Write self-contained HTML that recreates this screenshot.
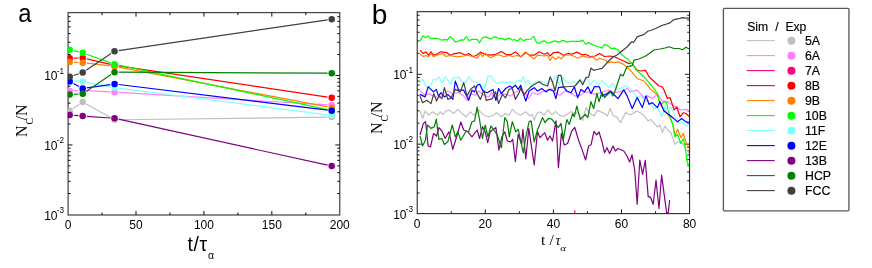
<!DOCTYPE html>
<html><head><meta charset="utf-8"><title>fig</title>
<style>html,body{margin:0;padding:0;background:#fff;}body{width:872px;height:268px;overflow:hidden;}svg{display:block;will-change:transform;}text{font-family:"Liberation Sans",sans-serif;fill:#000;}.ser{font-family:"Liberation Serif",serif;}</style>
</head><body>
<svg width="872" height="268" viewBox="0 0 872 268">
<rect width="872" height="268" fill="#fff"/>
<rect x="68.1" y="12.6" width="271.65" height="202.4" fill="none" stroke="#484848" stroke-width="1.25"/>
<path d="M102.06 215V212.5M102.06 12.6V15.1M136.01 215V211M136.01 12.6V16.6M169.97 215V212.5M169.97 12.6V15.1M203.92 215V211M203.92 12.6V16.6M237.88 215V212.5M237.88 12.6V15.1M271.84 215V211M271.84 12.6V16.6M305.79 215V212.5M305.79 12.6V15.1M68.1 193.53H70.6M339.75 193.53H337.25M68.1 181.29H70.6M339.75 181.29H337.25M68.1 172.61H70.6M339.75 172.61H337.25M68.1 165.87H70.6M339.75 165.87H337.25M68.1 160.37H70.6M339.75 160.37H337.25M68.1 155.72H70.6M339.75 155.72H337.25M68.1 151.69H70.6M339.75 151.69H337.25M68.1 148.13H70.6M339.75 148.13H337.25M68.1 144.95H72.5M339.75 144.95H335.35M68.1 124.03H70.6M339.75 124.03H337.25M68.1 111.79H70.6M339.75 111.79H337.25M68.1 103.11H70.6M339.75 103.11H337.25M68.1 96.37H70.6M339.75 96.37H337.25M68.1 90.87H70.6M339.75 90.87H337.25M68.1 86.22H70.6M339.75 86.22H337.25M68.1 82.19H70.6M339.75 82.19H337.25M68.1 78.63H70.6M339.75 78.63H337.25M68.1 75.45H72.5M339.75 75.45H335.35M68.1 54.53H70.6M339.75 54.53H337.25M68.1 42.29H70.6M339.75 42.29H337.25M68.1 33.61H70.6M339.75 33.61H337.25M68.1 26.87H70.6M339.75 26.87H337.25M68.1 21.37H70.6M339.75 21.37H337.25M68.1 16.72H70.6M339.75 16.72H337.25" stroke="#000" stroke-width="0.95" fill="none"/>
<path d="M451.25 213.65V211.25M451.25 11.7V14.1M485.3 213.65V209.45M485.3 11.7V15.9M519.35 213.65V211.25M519.35 11.7V14.1M553.4 213.65V209.45M553.4 11.7V15.9M587.45 213.65V211.25M587.45 11.7V14.1M621.5 213.65V209.45M621.5 11.7V15.9M655.55 213.65V211.25M655.55 11.7V14.1M417.2 192.97H419.6M689.6 192.97H687.2M417.2 180.67H419.6M689.6 180.67H687.2M417.2 171.95H419.6M689.6 171.95H687.2M417.2 165.18H419.6M689.6 165.18H687.2M417.2 159.65H419.6M689.6 159.65H687.2M417.2 154.97H419.6M689.6 154.97H687.2M417.2 150.92H419.6M689.6 150.92H687.2M417.2 147.35H419.6M689.6 147.35H687.2M417.2 144.15H421.9M689.6 144.15H684.9M417.2 123.12H419.6M689.6 123.12H687.2M417.2 110.82H419.6M689.6 110.82H687.2M417.2 102.1H419.6M689.6 102.1H687.2M417.2 95.33H419.6M689.6 95.33H687.2M417.2 89.8H419.6M689.6 89.8H687.2M417.2 85.12H419.6M689.6 85.12H687.2M417.2 81.07H419.6M689.6 81.07H687.2M417.2 77.5H419.6M689.6 77.5H687.2M417.2 74.3H421.9M689.6 74.3H684.9M417.2 53.27H419.6M689.6 53.27H687.2M417.2 40.97H419.6M689.6 40.97H687.2M417.2 32.25H419.6M689.6 32.25H687.2M417.2 25.48H419.6M689.6 25.48H687.2M417.2 19.95H419.6M689.6 19.95H687.2M417.2 15.27H419.6M689.6 15.27H687.2" stroke="#000" stroke-width="0.9" fill="none"/>
<defs><clipPath id="cl"><rect x="67.65" y="12.6" width="272.1" height="202.4"/></clipPath>
<clipPath id="cr"><rect x="417.2" y="11.7" width="272.4" height="201.95"/></clipPath></defs>
<g clip-path="url(#cl)">
<path d="M73.14 108.47L79.26 104.33M86.32 104.02L110.93 117.78M118.7 119.75L327.55 117.15" stroke="#C0C0C0" stroke-width="1.2" fill="none"/>
<circle cx="69.7" cy="110.8" r="3.25" fill="#C0C0C0"/>
<circle cx="82.7" cy="102" r="3.25" fill="#C0C0C0"/>
<circle cx="114.55" cy="119.8" r="3.25" fill="#C0C0C0"/>
<circle cx="331.7" cy="117.1" r="3.25" fill="#C0C0C0"/>
<path d="M73.85 90.71L78.55 90.49M86.84 90.55L110.41 91.95M118.69 92.45L327.56 104.85" stroke="#FF80FF" stroke-width="1.2" fill="none"/>
<circle cx="69.7" cy="90.9" r="3.25" fill="#FF80FF"/>
<circle cx="82.7" cy="90.3" r="3.25" fill="#FF80FF"/>
<circle cx="114.55" cy="92.2" r="3.25" fill="#FF80FF"/>
<circle cx="331.7" cy="105.1" r="3.25" fill="#FF80FF"/>
<path d="M73.85 58.1L78.55 58M86.74 58.84L110.51 64.36M118.65 65.91L327.6 97.09" stroke="#FF0000" stroke-width="1.2" fill="none"/>
<circle cx="69.7" cy="58.2" r="3.25" fill="#FF0000"/>
<circle cx="82.7" cy="57.9" r="3.25" fill="#FF0000"/>
<circle cx="114.55" cy="65.3" r="3.25" fill="#FF0000"/>
<circle cx="331.7" cy="97.7" r="3.25" fill="#FF0000"/>
<path d="M73.84 62.22L78.56 62.48M86.82 63.18L110.43 65.92M118.63 67.18L327.62 106.92" stroke="#FF8000" stroke-width="1.2" fill="none"/>
<circle cx="69.7" cy="62" r="3.25" fill="#FF8000"/>
<circle cx="82.7" cy="62.7" r="3.25" fill="#FF8000"/>
<circle cx="114.55" cy="66.4" r="3.25" fill="#FF8000"/>
<circle cx="331.7" cy="107.7" r="3.25" fill="#FF8000"/>
<path d="M73.73 50.68L78.67 51.87M86.61 54.24L110.64 62.81M118.61 65.07L327.64 109.63" stroke="#00FF00" stroke-width="1.2" fill="none"/>
<circle cx="69.7" cy="49.7" r="3.25" fill="#00FF00"/>
<circle cx="82.7" cy="52.85" r="3.25" fill="#00FF00"/>
<circle cx="114.55" cy="64.2" r="3.25" fill="#00FF00"/>
<circle cx="331.7" cy="110.5" r="3.25" fill="#00FF00"/>
<path d="M73.84 80.82L78.56 81.18M86.77 82.29L110.48 86.91M118.67 88.22L327.58 114.78" stroke="#80FFFF" stroke-width="1.2" fill="none"/>
<circle cx="69.7" cy="80.5" r="3.25" fill="#80FFFF"/>
<circle cx="82.7" cy="81.5" r="3.25" fill="#80FFFF"/>
<circle cx="114.55" cy="87.7" r="3.25" fill="#80FFFF"/>
<circle cx="331.7" cy="115.3" r="3.25" fill="#80FFFF"/>
<path d="M73.37 83.45L79.03 86.45M86.81 87.83L110.44 84.57M118.67 84.51L327.58 110.19" stroke="#0000FF" stroke-width="1.2" fill="none"/>
<circle cx="69.7" cy="81.5" r="3.25" fill="#0000FF"/>
<circle cx="82.7" cy="88.4" r="3.25" fill="#0000FF"/>
<circle cx="114.55" cy="84" r="3.25" fill="#0000FF"/>
<circle cx="331.7" cy="110.7" r="3.25" fill="#0000FF"/>
<path d="M73.84 115.39L78.56 115.71M86.84 116.3L110.41 118M118.6 119.19L327.65 165.21" stroke="#800080" stroke-width="1.2" fill="none"/>
<circle cx="69.7" cy="115.1" r="3.25" fill="#800080"/>
<circle cx="82.7" cy="116" r="3.25" fill="#800080"/>
<circle cx="114.55" cy="118.3" r="3.25" fill="#800080"/>
<circle cx="331.7" cy="166.1" r="3.25" fill="#800080"/>
<path d="M73.84 94.31L78.56 93.99M86.14 91.38L111.11 74.52M118.7 72.22L327.55 73.18" stroke="#008000" stroke-width="1.2" fill="none"/>
<circle cx="69.7" cy="94.6" r="3.25" fill="#008000"/>
<circle cx="82.7" cy="93.7" r="3.25" fill="#008000"/>
<circle cx="114.55" cy="72.2" r="3.25" fill="#008000"/>
<circle cx="331.7" cy="73.2" r="3.25" fill="#008000"/>
<path d="M73.64 75.5L78.76 73.8M86.15 70.19L111.1 53.51M118.66 50.6L327.59 19.85" stroke="#404040" stroke-width="1.2" fill="none"/>
<circle cx="69.7" cy="76.8" r="3.25" fill="#404040"/>
<circle cx="82.7" cy="72.5" r="3.25" fill="#404040"/>
<circle cx="114.55" cy="51.2" r="3.25" fill="#404040"/>
<circle cx="331.7" cy="19.25" r="3.25" fill="#404040"/>
</g>
<g clip-path="url(#cr)" fill="none" stroke-linejoin="round" stroke-width="1.2">
<polyline points="420,111 422.6,118.5 425.1,111 428.5,115.2 432.6,111.8 437.7,115.2 440.2,111.8 442.7,114.3 446,111 449.4,110.1 453.6,113.5 457.8,109.3 462,113.5 466.2,116.8 470.4,111.8 473.8,115.2 478.8,110.1 483.8,115.2 488.9,116.8 493.9,115.2 496.4,112.7 501.4,116.8 505.6,113.5 509,115.2 512.3,109.3 515.7,112.7 520.7,115.2 525.8,111.8 530,116 532.5,114.3 534.2,120.2 536.7,113.5 540,111.8 544.2,115.2 547.6,110.1 548,110.1 552.1,114.8 555.5,111.4 559.7,115.4 563.9,116.4 571.4,111.4 574,113.4 578.2,112.6 582.7,120.5 586,107.6 589,112.6 594,115.9 597.4,110.4 604.2,113.4 607.5,115.9 610,108.4 613.4,115.9 616.7,116.8 620.6,122.6 625.6,112.6 630.5,115 637.2,111 644,115.2 648,121 650.7,119.4 657.4,126.9 660,125 662.4,132.6 665,125.9 667.4,130 670.8,132.6 675,144.3 677.5,141.8 682.5,143.5 686,149.4 689.5,153.6" stroke="#C0C0C0"/>
<polyline points="420,91 425.1,95.2 428.5,93.6 433.5,96.1 438.5,97.8 443.6,94.4 447.8,91 452,93.6 458.7,92.7 463.7,96.1 467,100.3 470.4,93.6 475.4,95.2 478.8,91 483.8,95.2 488.9,96.9 491.4,92.7 495.6,98.6 500.6,93.6 505.6,94.4 510.7,96.1 515.7,91.9 520.7,90.2 525.8,93.6 528.3,98.6 532.5,92.7 537.5,94.4 544.2,91 549.3,89.4 552,88.8 555,92.7 560,95.2 565.1,91 570.1,92.7 575.2,96.1 580.2,95.2 585.2,91.9 590.3,92.7 595.3,94.4 600.3,92.7 605.4,91 608.7,90.2 613.8,92.7 618.8,91.9 623.8,90.2 627.2,88.2 630.5,91.9 637.2,90.2 644,97.5 647.3,95.9 652.3,98.4 657.4,94.2 662.4,100.9 667.4,101.7 674,106 680.9,110 686,109.3 689.5,111.8" stroke="#FF80FF"/>
<polyline points="420,50.1 423.4,53.5 425.9,51.8 428.5,55.2 431,51.8 433.5,55.2 437.7,53.5 441,51.8 446.9,52.7 450.3,55.2 453.6,53.8 460.3,52.7 465.4,55.2 468.7,53.5 472.9,56.5 476.3,55.5 480.5,52.1 484.7,54.3 490.5,55.2 495.6,54.3 501.4,51.5 506.5,54.8 511.5,54.3 515.7,51.8 520.7,56.8 525.8,52.7 530,55.2 534.2,55.2 539.2,51.8 544.2,54.3 547.6,52.7 550,56 553.4,52.7 558.4,52.1 563.4,55.2 568.5,53.2 571.8,54.3 576.8,52.1 581.9,54.8 585.2,54.3 590.3,56.5 595.3,56 599.5,53.5 604.5,56.5 609.6,56 614.6,56.8 618,58.5 623.8,61 628.9,63.6 631.4,62.7 634,66 637,70 640.6,71 645.6,70.4 649,76.8 659,86 662.4,86.8 664,90 667.4,98.5 670,97.5 674.2,110 676.7,106.8 680,116.8 683.4,112.7 686,113.5 689.5,116.8" stroke="#FF0000"/>
<polyline points="420,54.3 423.4,56.5 425.9,55.5 428.5,56.8 431,53.5 433.5,56.8 437.7,54.8 442.7,53.5 446.1,56.5 449.4,55.5 457,56.8 463.7,56 467.9,55.2 472.9,56.8 477.1,58.2 480.5,53.5 482.5,56.8 485.2,53.2 488,56 490.5,57.7 495.6,55.2 498.9,54.8 504,56.8 509,55.2 512.3,56.5 517.4,55.5 520.7,56.8 525.4,51.8 529.1,55.2 534.2,58.9 537.5,55.2 544.2,56 547.6,55.2 550.1,60.5 552.5,56.8 555.9,59.4 558.4,56.8 560.9,58.9 565.1,55.2 570.1,54.8 574.3,56.5 577.7,58.2 582.7,56 588.6,57.7 592.8,56.8 596.1,60.2 599.5,58.2 605.4,60.2 608.7,62.7 611.2,61.9 614.6,62.7 618,61.9 623.8,64.4 627.2,67.8 630.5,70.3 634,74.5 637,78.5 644,81 650.7,89.4 657.4,95 660.7,105 665.8,111.8 670,117.7 673.3,126 675,136 677.5,129.2 680.9,137.6 683.4,133.4 686.7,144.3 689.5,147.7" stroke="#FF8000"/>
<polyline points="420,41.1 423,35.7 425.4,37.7 428.1,36 431,38.6 436.8,38.2 441.9,40.2 445.2,39.4 447.2,40.2 450.3,36.4 455.3,41.9 458.7,41.1 461.2,39.9 463.7,40.2 466.2,36.5 469,40.6 472,39.4 477.1,39.4 479.6,42.8 482.5,37.7 485.5,36.9 490.5,38.9 493.9,36.9 496.4,37.2 498.9,38.6 501.4,38.1 504.8,39.9 509.3,38.1 512.3,40.2 514.9,39.7 517.4,41.1 520.4,38.2 523.3,40.6 526.6,39.4 530.8,39.1 533.8,36.4 536.7,42.8 539.2,43.3 544.2,40.6 547.6,43.3 551.8,41.9 555,40.9 558.4,42.1 563.4,40.4 566.8,42.1 570.1,41.4 580.2,41.4 582.7,40.1 585.6,44.3 588.6,42.6 593.6,45.1 598.7,46.8 602,48.1 604.5,44.3 607.9,45.9 611.2,48.5 614.6,48.1 618,49.8 622.1,55.2 627.2,58.5 630.5,61.9 633.9,66.1 635.6,69.2 644,76.8 650.7,84.3 657.4,93.5 659,100 661.6,104.3 664,101.7 666.6,102.6 669,113.5 672.5,123.6 675,136.8 677.5,134.3 680.9,143.5 683.4,138.5 685.6,149.4 686.7,160.3 689.5,167.6" stroke="#00FF00"/>
<polyline points="420,82.7 422.6,79.3 426,86.8 429.3,87.7 433.5,79.3 436,80.1 438.9,76.8 441.9,83.5 445.2,76.8 447.8,80.1 450.3,84.3 452.8,78.5 458.7,76.8 462,81.8 465.4,82.7 468.7,76.8 472,81 477.1,82.7 480.5,84.3 484.7,88.5 488,76 491.4,76.4 493.9,81 497.2,83.5 502.3,81.8 507.3,82.7 510.7,81.8 514.9,83.5 518.2,80.1 520.7,81.8 523.3,76.8 525.8,82.7 528.3,80.1 531.1,87.7 534.2,81.8 537.5,81 542.5,81.8 545.9,83.5 549.3,81.8 552.6,81.5 555.9,75.4 559.2,85.2 562.6,76.8 565.9,81.8 570.1,83.5 573.5,81.5 577.7,83.5 581,79.3 583.6,82.7 586.9,77.6 590.3,85.2 594,80.1 598.7,85.2 602,80.5 608.7,87.7 612.9,83.5 617.1,89.4 621.3,88.5 625.5,85.5 630.5,88.5 633.9,93.6 637.2,97.5 639.8,95.9 650.7,104.3 654,109.3 657.4,106.8 661.6,116.8 665,106.8 667.4,111 670.8,106.8 675,116 679.2,122.7 682.5,121.9 686,126 689.5,123.6" stroke="#80FFFF"/>
<polyline points="420,94.4 425.1,96.9 428.1,86.8 431,89.4 433.5,91.9 436.3,89.4 438.5,96.1 441,92.7 444.4,96.9 447.8,94.4 452.8,99.4 455.3,81 458.7,90.2 463.7,90.2 468.7,100.3 472,90.2 474.6,91.9 477.1,85.2 479.6,84.3 483,91 487.2,92.7 493,89.4 495.9,100.3 498.6,88.5 501.4,93.6 505.6,88.5 509.8,86 512.3,87.7 515.4,85.2 518.2,89.4 520.7,85.2 523.3,93.6 525.8,101.1 529.1,91 534.2,87.7 537.5,91 541.7,88.5 545.9,91.9 549.3,89.4 553.4,91 555.9,98.6 558.4,87.7 563.4,86.8 566.8,91 571,92.7 574.3,86.8 577.7,97.8 581,89.4 584.4,91.9 587.8,86.8 591.1,93.6 594.5,86.5 599.5,86.8 602,96.1 607,93.6 610.4,91 618,98.6 621.3,93.6 623.8,89.9 627.2,96.1 632.2,108.5 637.2,97.5 642.3,107.6 646,95.9 649,104.3 652.3,102.6 657.4,107.6 660,101.7 664,111 670.8,116 677.5,121.9 681.7,118.5 686,121.9 689.5,122.7" stroke="#0000FF"/>
<polyline points="420,135 423.4,123.4 425.6,121.7 428.1,146 430.5,146.9 433.5,133.5 436.5,136 438.9,127.6 441.9,131 445.2,138.5 448.9,131.8 452.8,149.4 456.1,138.5 460.8,122 463.7,130 467.9,131.8 472,136.8 477.1,130 479.6,138.5 482.5,126.7 485.2,131.8 487.7,142.7 490.2,131.8 495.9,127.6 498.9,150.2 501.9,136.8 504.8,131.8 507.3,141 510.7,141.8 512.7,139.3 515.4,161.7 518.2,134.3 521.6,144.4 522.9,129.3 525.8,159 528.8,128.4 534.2,164.9 537.5,131.8 540,137.7 544.7,132.6 547.6,140.2 550,136 552.5,141 556,120.8 558.4,167.6 561.4,133.4 564.3,145 567.6,143.5 571.8,131 574.8,127.5 578.5,140 582,149.4 585.6,160 588.6,146 591,144.8 594,131.4 596.6,134.8 599,132 602,141.8 604.5,152.7 607,147.7 609.6,153.6 613,146 615.4,151 618,148.5 623.8,151 627,156 629.7,162 632,154.8 634.7,170 637.2,204.3 639.8,160 642.6,174.3 645.3,160.4 648.2,196.8 650.3,196.8 653.2,204.3 656,180.2 659,208.5 661.6,175.2 666.6,212.7 668.3,212.7 669.6,200" stroke="#800080"/>
<polyline points="420,136 422.6,146 425.4,140.2 427.6,125 431,128.4 434.3,126.7 436.3,119.2 438.9,139.3 441.9,138.5 444.4,144.4 447.8,141.8 452.3,125 455.3,136.8 457.8,131.8 460.8,140.2 466.2,131 468.7,131.8 472,121.7 474.6,120.9 477.1,107 479.6,120 482.5,138.5 485.2,125 488,136.8 490.9,125.9 493.9,130 497.2,135 501.4,147.7 504.8,117.5 507.3,121.7 509.3,136.8 512.3,121.7 515.7,131.8 518.2,129.3 523.3,152.8 525.8,136.8 529.1,121.7 531.1,120.9 534.2,141.8 537.5,130 542.5,117.5 545,122.5 548.4,118.4 551.8,119.2 555,123.4 558.4,127.5 561,123.4 563.4,139.3 566.8,119.5 569.3,124.4 572.7,113.5 574.3,116.8 576.8,106 580.2,119.4 585.2,114.3 587.8,117.7 591,101.7 593.6,108.5 597,93.4 599,101.7 602,92.5 604.5,97.5 610.4,91.7 613,96 615.4,90 618,82 620.5,74.3 623,76 627,66.7 632,65.9 634,60.2 639,59 645.6,56 650,53 654,50 660,49 665,48 669,46.8 674,48.5 679,48.5 682.5,49.8 686,47.3 689.5,49.3" stroke="#008000"/>
<polyline points="420,96.1 422.6,102.8 426.8,100.3 431,103.6 433.8,93.6 436.5,101.1 438.9,96.1 441.9,98.6 444.4,87.7 447.8,99.4 451.1,97.8 455.3,89.4 460.3,91.9 463.7,82.7 467,96.1 470.4,89.4 474.6,86 477.1,93.6 480.5,99.4 483.8,90.2 486.3,100.3 492.2,98.6 495.6,91.9 498.6,103.6 502.3,94.4 505.6,97.8 509,89.4 512.3,88.5 515.4,99.4 519.1,92.7 520.7,87.7 524.1,95.2 527.4,90.2 530.8,86.8 535.8,83.5 539.2,81.8 542.5,84.3 547.6,86 550.1,76.8 552.5,82 555,91 558.4,75.4 561,75.4 563.4,86.8 569,86.5 575,86 580,80 582.7,84.8 586,77.6 588.6,77 591,68 593.6,70.4 597,69.5 602,68.4 608.7,61 613,57 617,55 622,51 627,47 630.5,43 632,41.7 633.5,42.5 637.2,36.9 644,34.4 648.2,31 650.7,30.5 655.7,28.5 661.6,25.5 665.8,24.3 670,22.9 672.5,20.6 675,19.3 680,18.3 682.5,17.7 686,18.2 689.6,17.9" stroke="#404040"/>
</g>
<line x1="574.8" y1="210.3" x2="574.8" y2="213.5" stroke="#FF0080" stroke-width="1.1"/>
<rect x="417.2" y="11.7" width="272.4" height="201.95" fill="none" stroke="#141414" stroke-width="1.0"/>
<text x="68.1" y="228.6" font-size="12.0" text-anchor="middle">0</text>
<text x="136.01" y="228.6" font-size="12.0" text-anchor="middle">50</text>
<text x="203.92" y="228.6" font-size="12.0" text-anchor="middle">100</text>
<text x="271.84" y="228.6" font-size="12.0" text-anchor="middle">150</text>
<text x="339.75" y="228.6" font-size="12.0" text-anchor="middle">200</text>
<text x="417.2" y="227.7" font-size="12.0" text-anchor="middle">0</text>
<text x="485.3" y="227.7" font-size="12.0" text-anchor="middle">20</text>
<text x="553.4" y="227.7" font-size="12.0" text-anchor="middle">40</text>
<text x="621.5" y="227.7" font-size="12.0" text-anchor="middle">60</text>
<text x="689.6" y="227.7" font-size="12.0" text-anchor="middle">80</text>
<text x="57.55" y="80" font-size="12.0" text-anchor="end">10</text>
<text x="56.8" y="73.8" font-size="8.2">-1</text>
<text x="57.55" y="149.5" font-size="12.0" text-anchor="end">10</text>
<text x="56.8" y="143.3" font-size="8.2">-2</text>
<text x="57.55" y="219.5" font-size="12.0" text-anchor="end">10</text>
<text x="56.8" y="212.6" font-size="8.2">-3</text>
<text x="406.55" y="78.7" font-size="12.0" text-anchor="end">10</text>
<text x="405.8" y="72.5" font-size="8.2">-1</text>
<text x="406.55" y="148.55" font-size="12.0" text-anchor="end">10</text>
<text x="405.8" y="142.35" font-size="8.2">-2</text>
<text x="406.55" y="218.9" font-size="12.0" text-anchor="end">10</text>
<text x="405.8" y="212" font-size="8.2">-3</text>
<text transform="translate(18.3 22.2) scale(0.88 0.98)" font-size="27">a</text>
<text transform="translate(371.8 24) scale(1.04 1)" font-size="27">b</text>
<text x="187.5" y="251" font-size="19.3" letter-spacing="0.7">t/τ</text>
<text x="208.0" y="258.6" font-size="10.5">α</text>
<text class="ser" x="541" y="244.6" font-size="15.5">t</text>
<text class="ser" x="549.6" y="244.6" font-size="15.5">/</text>
<text class="ser" x="555.6" y="244.6" font-size="14" font-style="italic">τ</text>
<text class="ser" transform="translate(560.3 250.9) scale(1.18 1)" font-size="9.2" font-style="italic">α</text>
<g transform="translate(27.1 137.1) rotate(-90)"><text class="ser" x="0" y="0" font-size="15.8">N</text><text class="ser" x="12.5" y="5.6" font-size="10">C</text><text class="ser" x="16.6" y="0" font-size="15.8">/N</text></g>
<g transform="translate(382.1 134) rotate(-90)"><text class="ser" x="0" y="0" font-size="15.8">N</text><text class="ser" x="12.5" y="5.6" font-size="10">C</text><text class="ser" x="16.6" y="0" font-size="15.8">/N</text></g>
<rect x="723.4" y="8.4" width="125.55" height="202.45" rx="1" fill="#fff" stroke="#5a5a5a" stroke-width="1.35"/>
<g font-size="12.2" stroke="#000" stroke-width="0.15"><text x="747.2" y="30.5">Sim</text><text x="775.2" y="30.5">/</text><text x="785.4" y="30.5">Exp</text></g>
<line x1="746.8" y1="40.6" x2="774.8" y2="40.6" stroke="#C0C0C0" stroke-width="1.1"/>
<circle cx="791.4" cy="40.85" r="4" fill="#C0C0C0"/>
<text x="805" y="45.35" font-size="12.3" stroke="#000" stroke-width="0.18">5A</text>
<line x1="746.8" y1="55.6" x2="774.8" y2="55.6" stroke="#FF80FF" stroke-width="1.1"/>
<circle cx="791.4" cy="55.85" r="4" fill="#FF80FF"/>
<text x="805" y="60.35" font-size="12.3" stroke="#000" stroke-width="0.18">6A</text>
<line x1="746.8" y1="70.6" x2="774.8" y2="70.6" stroke="#FF0080" stroke-width="1.1"/>
<circle cx="791.4" cy="70.85" r="4" fill="#FF0080"/>
<text x="805" y="75.35" font-size="12.3" stroke="#000" stroke-width="0.18">7A</text>
<line x1="746.8" y1="85.6" x2="774.8" y2="85.6" stroke="#FF0000" stroke-width="1.1"/>
<circle cx="791.4" cy="85.85" r="4" fill="#FF0000"/>
<text x="805" y="90.35" font-size="12.3" stroke="#000" stroke-width="0.18">8B</text>
<line x1="746.8" y1="100.6" x2="774.8" y2="100.6" stroke="#FF8000" stroke-width="1.1"/>
<circle cx="791.4" cy="100.85" r="4" fill="#FF8000"/>
<text x="805" y="105.35" font-size="12.3" stroke="#000" stroke-width="0.18">9B</text>
<line x1="746.8" y1="115.6" x2="774.8" y2="115.6" stroke="#00FF00" stroke-width="1.1"/>
<circle cx="791.4" cy="115.85" r="4" fill="#00FF00"/>
<text x="805" y="120.35" font-size="12.3" stroke="#000" stroke-width="0.18">10B</text>
<line x1="746.8" y1="130.6" x2="774.8" y2="130.6" stroke="#80FFFF" stroke-width="1.1"/>
<circle cx="791.4" cy="130.85" r="4" fill="#80FFFF"/>
<text x="805" y="135.35" font-size="12.3" stroke="#000" stroke-width="0.18">11F</text>
<line x1="746.8" y1="145.6" x2="774.8" y2="145.6" stroke="#0000FF" stroke-width="1.1"/>
<circle cx="791.4" cy="145.85" r="4" fill="#0000FF"/>
<text x="805" y="150.35" font-size="12.3" stroke="#000" stroke-width="0.18">12E</text>
<line x1="746.8" y1="160.6" x2="774.8" y2="160.6" stroke="#800080" stroke-width="1.1"/>
<circle cx="791.4" cy="160.85" r="4" fill="#800080"/>
<text x="805" y="165.35" font-size="12.3" stroke="#000" stroke-width="0.18">13B</text>
<line x1="746.8" y1="175.6" x2="774.8" y2="175.6" stroke="#008000" stroke-width="1.1"/>
<circle cx="791.4" cy="175.85" r="4" fill="#008000"/>
<text x="805" y="180.35" font-size="12.3" stroke="#000" stroke-width="0.18">HCP</text>
<line x1="746.8" y1="190.6" x2="774.8" y2="190.6" stroke="#404040" stroke-width="1.1"/>
<circle cx="791.4" cy="190.85" r="4" fill="#404040"/>
<text x="805" y="195.35" font-size="12.3" stroke="#000" stroke-width="0.18">FCC</text>
</svg></body></html>
